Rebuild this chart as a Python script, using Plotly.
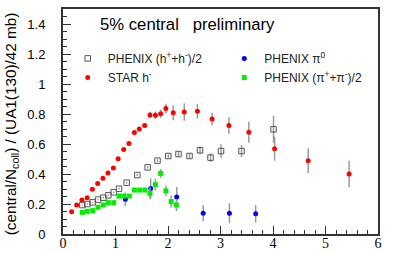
import plotly.graph_objects as go

# STAR h-
star_x = [0.165, 0.26, 0.36, 0.46, 0.56, 0.66, 0.76, 0.857, 0.96, 1.05, 1.156, 1.257, 1.36, 1.453,
          1.556, 1.657, 1.76, 1.86, 1.96, 2.10, 2.31, 2.56, 2.84, 3.16, 3.54, 4.03, 4.67, 5.45]
star_y = [0.149, 0.193, 0.227, 0.242, 0.298, 0.336, 0.371, 0.407, 0.44, 0.502, 0.564, 0.604, 0.676, 0.70,
          0.724, 0.793, 0.791, 0.802, 0.836, 0.809, 0.813, 0.818, 0.767, 0.724, 0.678, 0.569, 0.489, 0.40]
star_err = [0.005, 0.005, 0.005, 0.005, 0.006, 0.006, 0.007, 0.007, 0.008, 0.008, 0.009, 0.01, 0.012, 0.014,
            0.016, 0.022, 0.025, 0.028, 0.033, 0.05, 0.058, 0.048, 0.042, 0.055, 0.07, 0.08, 0.083, 0.089]

# PHENIX (h+ + h-)/2
phh_x = [0.368, 0.463, 0.565, 0.667, 0.768, 0.863, 0.966, 1.067, 1.213, 1.415, 1.613, 1.80, 2.006,
         2.20, 2.41, 2.61, 2.81, 3.01, 3.40, 4.01]
phh_y = [0.193, 0.20, 0.211, 0.229, 0.242, 0.258, 0.278, 0.302, 0.342, 0.393, 0.444, 0.489, 0.52,
         0.533, 0.52, 0.558, 0.509, 0.553, 0.553, 0.698]
phh_err = [0.004, 0.004, 0.004, 0.004, 0.005, 0.005, 0.005, 0.006, 0.006, 0.007, 0.008, 0.01, 0.012,
           0.015, 0.018, 0.025, 0.03, 0.045, 0.04, 0.09]

# PHENIX pi0
pi0_x = [1.187, 1.67, 2.166, 2.67, 3.17, 3.67]
pi0_y = [0.231, 0.304, 0.247, 0.138, 0.138, 0.135]
pi0_err = [0.045, 0.067, 0.067, 0.053, 0.067, 0.058]

# PHENIX (pi+ + pi-)/2
pic_x = [0.368, 0.463, 0.565, 0.667, 0.768, 0.863, 0.966, 1.067, 1.16, 1.263, 1.36, 1.46, 1.56,
         1.657, 1.76, 1.86, 1.96, 2.06, 2.16]
pic_y = [0.144, 0.151, 0.156, 0.178, 0.193, 0.209, 0.209, 0.253, 0.253, 0.253, 0.293, 0.293, 0.293,
         0.271, 0.329, 0.404, 0.287, 0.216, 0.193]
pic_err = [0.004, 0.004, 0.004, 0.005, 0.005, 0.005, 0.006, 0.006, 0.007, 0.008, 0.009, 0.01, 0.012,
           0.04, 0.04, 0.03, 0.035, 0.04, 0.04]

x_ticks = [0, 1, 2, 3, 4, 5, 6]
y_ticks = [0, 0.2, 0.4, 0.6, 0.8, 1.0, 1.2, 1.4]
y_tick_text = ["0", "0.2", "0.4", "0.6", "0.8", "1", "1.2", "1.4"]

errstyle = dict(type="data", thickness=1.5, width=0, color="#9a9a9a")

fig = go.Figure()
fig.add_trace(go.Scatter(
    x=phh_x, y=phh_y, mode="markers", name="PHENIX (h<sup>+</sup>+h<sup>-</sup>)/2",
    error_y=dict(array=phh_err, **errstyle),
    marker=dict(symbol="square-open", size=5.5, color="#555555", line=dict(width=1)),
    legend="legend"))
fig.add_trace(go.Scatter(
    x=star_x, y=star_y, mode="markers", name="STAR h<sup>-</sup>",
    error_y=dict(array=star_err, **errstyle),
    marker=dict(symbol="circle", size=5, color="#ff0000"),
    legend="legend"))
fig.add_trace(go.Scatter(
    x=pi0_x, y=pi0_y, mode="markers", name="PHENIX π<sup>0</sup>",
    error_y=dict(array=pi0_err, **errstyle),
    marker=dict(symbol="circle", size=5, color="#0000ff"),
    legend="legend2"))
fig.add_trace(go.Scatter(
    x=pic_x, y=pic_y, mode="markers", name="PHENIX (π<sup>+</sup>+π<sup>-</sup>)/2",
    error_y=dict(array=pic_err, **errstyle),
    marker=dict(symbol="square", size=5, color="#00ee00"),
    legend="legend2"))

legfont = dict(family="Liberation Sans, Arial, sans-serif", size=12, color="#222222")
fig.update_layout(
    width=415, height=254,
    margin=dict(l=63, r=37, t=9, b=20, autoexpand=False),
    paper_bgcolor="white", plot_bgcolor="white",
    font=dict(family="Liberation Sans, Arial, sans-serif", color="black"),
    legend=dict(x=0.015, y=0.845, xanchor="left", yanchor="top", bgcolor="rgba(0,0,0,0)",
                font=legfont, itemwidth=30, tracegroupgap=0),
    legend2=dict(x=0.512, y=0.845, xanchor="left", yanchor="top", bgcolor="rgba(0,0,0,0)",
                 font=legfont, itemwidth=30, tracegroupgap=0),
    xaxis=dict(range=[0, 6], tickvals=x_ticks, ticks="inside", ticklen=8, tickwidth=1,
               tickcolor="#333", showgrid=False, zeroline=False, showline=True,
               linecolor="#333", linewidth=2, mirror=True, automargin=False,
               tickfont=dict(family="Liberation Serif, Times New Roman, serif", size=14),
               ticklabelstandoff=-5,
               minor=dict(dtick=0.2, ticks="inside", ticklen=4, tickcolor="#333")),
    yaxis=dict(range=[0, 1.5], tickvals=y_ticks, ticktext=y_tick_text, ticks="inside", ticklen=8,
               tickwidth=1, tickcolor="#333", showgrid=False, zeroline=False, showline=True,
               linecolor="#333", linewidth=2, mirror=True, automargin=False,
               tickfont=dict(size=13), ticklabelstandoff=13,
               minor=dict(dtick=0.05, ticks="inside", ticklen=4, tickcolor="#333")),
    annotations=[
        dict(x=0.667, y=1.40, xref="x", yref="y", xanchor="left", yanchor="middle",
             text="5% central\u00a0\u00a0\u00a0preliminary", showarrow=False,
             font=dict(size=16.7, color="black")),
        dict(x=-0.165, y=0.488, xref="paper", yref="paper", xanchor="center", yanchor="middle",
             textangle=-90, text="(central/N<sub>coll</sub>) / (UA1(130)/42 mb)", showarrow=False,
             font=dict(size=15.3, color="black")),
    ],
)

fig.write_html("out.html", config={"displayModeBar": False},
               post_script="document.body.style.margin='0';")
